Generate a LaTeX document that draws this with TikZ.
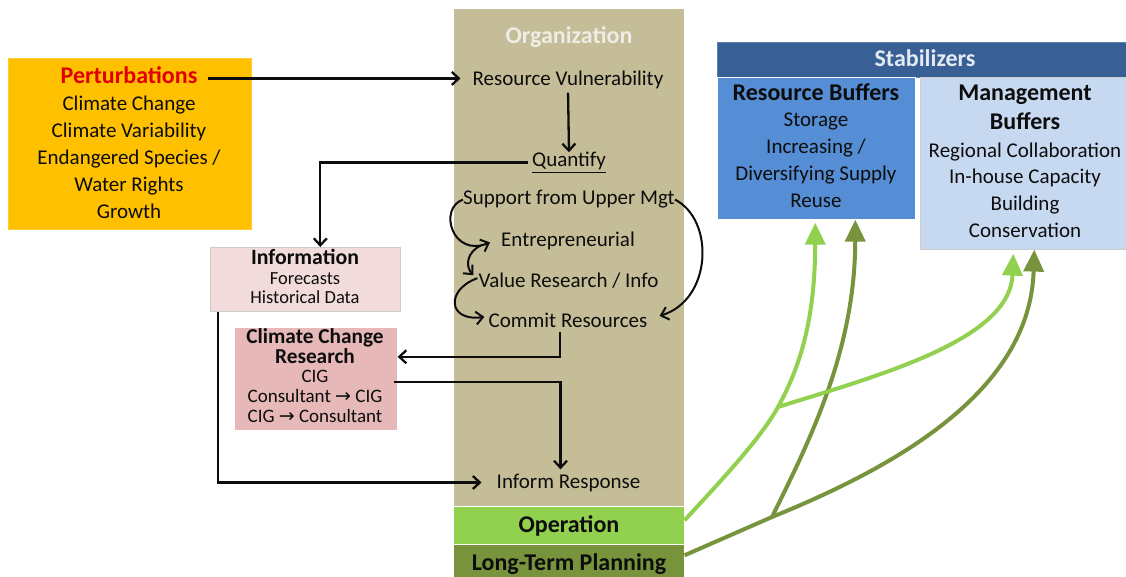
\documentclass[tikz,border=0pt]{standalone}
\usepackage{fontspec}
\setmainfont{Carlito}
\newfontfamily\arrowfont{DejaVu Sans}
\usetikzlibrary{arrows.meta}

\definecolor{orgtan}{HTML}{C4BD97}
\definecolor{orgtitle}{HTML}{EEECE4}
\definecolor{opgreen}{HTML}{92D050}
\definecolor{ltolive}{HTML}{77933C}
\definecolor{perturb}{HTML}{FFC000}
\definecolor{pertred}{HTML}{E00000}
\definecolor{infopink}{HTML}{F2DCDB}
\definecolor{ccrpink}{HTML}{E6B9B8}
\definecolor{stabblue}{HTML}{386094}
\definecolor{stabtext}{HTML}{E4EAF2}
\definecolor{resblue}{HTML}{558ED5}
\definecolor{mgmtblue}{HTML}{C6D9F1}
\definecolor{ink}{HTML}{0D0D0D}

\newcommand{\ra}{{\arrowfont →}}

% multi-line nodes sit on the baseline of their last line
\tikzset{
  panel/.style={anchor=north west, inner sep=0pt, draw=#1!80!white, line width=0.6pt, fill=#1},
  txt/.style={font=\fontsize{21}{27}\selectfont, text=ink, inner sep=0pt, anchor=base, align=center},
  txtb/.style={txt, font=\fontsize{24}{29}\selectfont\bfseries},
  small/.style={txt, font=\fontsize{18.5}{18.5}\selectfont},
  smallb/.style={txt, font=\fontsize{21.3}{18.5}\selectfont\bfseries},
  conn/.style={draw=ink, line width=2.3pt, -{Straight Barb[length=7pt,width=13pt]}},
  loop/.style={conn, line width=2pt},
  lightarrow/.style={draw=opgreen, line width=4pt, -{Triangle[length=22pt,width=20pt]}},
  olivearrow/.style={draw=ltolive, line width=4pt, -{Triangle[length=22pt,width=20pt]}},
}

\begin{document}
\begin{tikzpicture}[x=1pt, y=-1pt]
\useasboundingbox (0,0) rectangle (1126,577);

% ---- boxes ----
\node[panel=orgtan, draw=white, minimum width=231pt, minimum height=498pt] (orgbox) at (453,8) {};
\node[panel=opgreen, draw=white, minimum width=231pt, minimum height=38pt] (opbox) at (453,506) {};
\node[panel=ltolive, draw=white, minimum width=231pt, minimum height=33pt] (ltpbox) at (453,544) {};
\node[panel=perturb, minimum width=243pt, minimum height=171pt] (pertbox) at (7.5,58) {};
\node[panel=infopink, draw=gray!40, minimum width=190pt, minimum height=64pt] (infobox) at (210,247) {};
\node[panel=ccrpink, draw=white, minimum width=163pt, minimum height=103pt] (ccrbox) at (234,327) {};
\node[panel=stabblue, minimum width=409pt, minimum height=35pt] (stabbox) at (717,42) {};
\node[panel=resblue, draw=white, minimum width=198pt, minimum height=142pt] (rbbox) at (717,77) {};
\node[panel=mgmtblue, draw=gray!40, minimum width=206pt, minimum height=172pt] (mbbox) at (920,77) {};

% ---- Perturbations ----
\node[txtb, text=pertred] (pert) at (129,83.3) {Perturbations};
\node[txt] (pertlist) at (129,219) {Climate Change\\Climate Variability\\Endangered Species /\\Water Rights\\Growth};

% ---- Organization column ----
\node[txtb, text=orgtitle] (orgtitle) at (569,44) {Organization};
\node[txt] (resvul) at (568,86) {Resource Vulnerability};
\node[txt] (quant) at (569,167) {\underline{Quantify}};
\node[txt] (support) at (569,205) {Support from Upper Mgt};
\node[txt] (entre) at (568,247) {Entrepreneurial};
\node[txt] (value) at (568.5,287) {Value Research / Info};
\node[txt] (commit) at (568,327) {Commit Resources};
\node[txt] (inform) at (568.5,488) {Inform Response};
\node[txtb] (op) at (569,532) {Operation};
\node[txtb] (ltp) at (569,570) {Long-Term Planning};

% ---- Information ----
\node[smallb, font=\fontsize{21.8}{20}\selectfont\bfseries] (infohead) at (305,265) {Information};
\node[small] (infolist) at (305,303) {Forecasts\\Historical Data};

% ---- Climate Change Research ----
\node[smallb] (ccrhead) at (315,363) {Climate Change\\Research};
\node[small, font=\fontsize{19}{20}\selectfont] (ccrlist) at (315,422) {CIG\\Consultant \ra{} CIG\\CIG \ra{} Consultant};

% ---- Stabilizers ----
\node[txtb, text=stabtext] (stab) at (925,67) {Stabilizers};
\node[txtb] (rbhead) at (816,101) {Resource Buffers};
\node[txt] (rblist) at (816,208) {Storage\\Increasing /\\Diversifying Supply\\Reuse};
\node[txtb] (mbhead) at (1025,130) {Management\\Buffers};
\node[txt] (mblist) at (1025,238) {Regional Collaboration\\In-house Capacity\\Building\\Conservation};

% ---- black connectors ----
\draw[conn, shorten <=10pt, shorten >=12pt] ([shift={(0,3.5)}]pert.east) -- ([shift={(0,3.5)}]pert.east -| resvul.west);
\draw[conn, shorten <=3pt] (resvul.south) -- (quant.north);
\draw[conn, shorten <=4pt] (quant.west) -| ([shift={(15,0)}]infobox.north);
\draw[conn, shorten <=5pt] ([shift={(-8,0)}]commit.south) |- ([shift={(0,-22)}]ccrbox.east);
\draw[conn, shorten >=4pt] ([shift={(-4,3.4)}]ccrbox.east) -| ([shift={(-8,0)}]inform.north);
\draw[conn, shorten >=15pt] ([shift={(8,0)}]infobox.south west) |- (inform.west);

% ---- loops among the organization steps ----
\draw[loop] (support.west) .. controls (438,208) and (452,258) .. ([shift={(-11,1)}]entre.west);
\draw[loop] ([shift={(-20,4)}]entre.west) .. controls (467,252) and (465,266) .. ([shift={(-5,-5)}]value.west);
\draw[loop] ([shift={(-1,-2)}]value.west) .. controls (445,290) and (448,322) .. ([shift={(-4,-3)}]commit.west);
\draw[loop] (support.east) .. controls (715,220) and (712,300) .. ([shift={(12,-4)}]commit.east);

% ---- green connectors to the buffers ----
\coordinate (J1) at (778,407);
\coordinate (J2) at (772,517);
\draw[olivearrow] ([shift={(0,-5.5)}]ltpbox.east) -- (J2) .. controls (900,465) and (1030,390) .. ([shift={(11,0)}]mbbox.south);
\draw[olivearrow] (J2) .. controls (810,440) and (855,350) .. ([shift={(39,0)}]rbbox.south);
\draw[lightarrow] ([shift={(0,-5)}]opbox.east) .. controls (715,487) and (760,440) .. (J1) .. controls (800,367) and (815,320) .. ([shift={(-1,3)}]rbbox.south);
\draw[lightarrow] (J1) .. controls (880,375) and (1010,340) .. ([shift={(-10,4)}]mbbox.south);

\end{tikzpicture}
\end{document}
